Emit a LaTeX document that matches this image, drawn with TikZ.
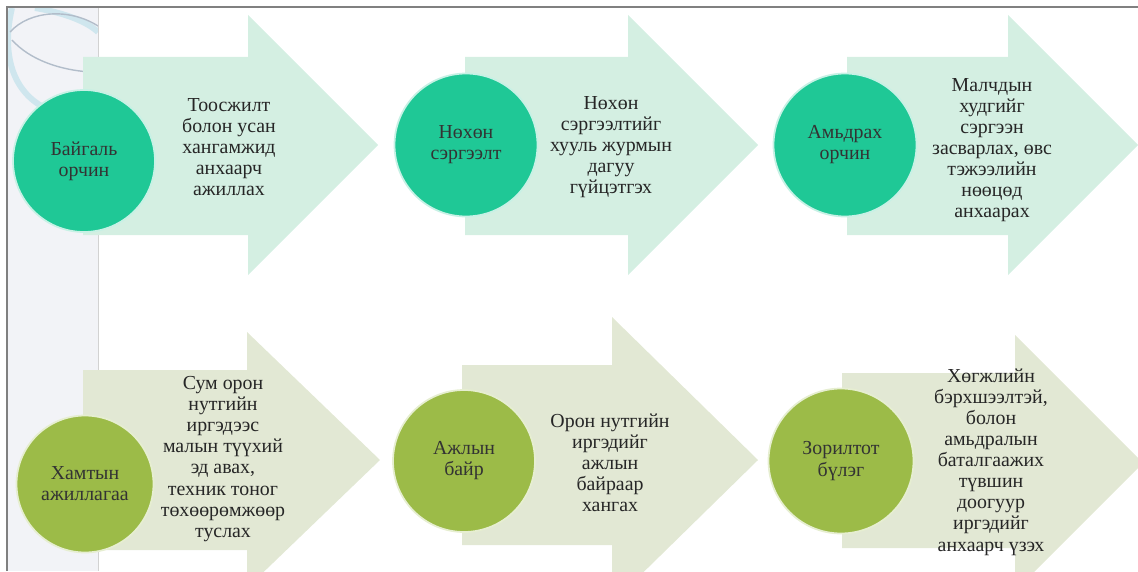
\documentclass[tikz,border=0pt]{standalone}
\usepackage{fontspec}
\setmainfont{Liberation Serif}
\usepackage{xcolor}
\definecolor{tealhub}{HTML}{1FC896}
\definecolor{tealarrow}{HTML}{D4EFE2}
\definecolor{olivehub}{HTML}{9CBB48}
\definecolor{olivearrow}{HTML}{E2E8D4}
\definecolor{stripgray}{HTML}{F2F3F7}
\definecolor{stripblue}{HTML}{CFE6EE}
\definecolor{stripline}{HTML}{B2BDCA}
\definecolor{frame}{HTML}{808080}

\begin{document}
\begin{tikzpicture}[x=0.02cm,y=-0.02cm,
    hub/.style={circle,fill=#1,draw=#1!25!white,line width=1pt,inner sep=0pt,
      align=center,text=black!80,font=\fontsize{11.3}{12}\selectfont},
    note/.style={align=center,text=black!85,font=\fontsize{11.3}{12}\selectfont}]
  \useasboundingbox (0,0) rectangle (1138,571);

  \fill[stripgray] (7,7) rectangle (98,571);
  \begin{scope}
    \clip (7,7) rectangle (98,571);
    \draw[stripblue,line width=3.4pt] (12,8) .. controls (2,50) and (10,90) .. (45,108);
    \draw[stripblue,line width=3.4pt] (35,8) .. controls (60,12) and (85,20) .. (98,32);
    \draw[stripline,line width=0.8pt] (10,32) .. controls (30,10) and (70,8) .. (98,26);
    \draw[stripline,line width=0.8pt] (12,40) .. controls (30,60) and (60,70) .. (90,72);
  \end{scope}
  \draw[gray!35] (98,7) -- (98,571);
  \draw[frame,line width=1.2pt] (7,571) -- (7,7) -- (1138,7);

  \fill[tealarrow] (83,57) -- (248,57) -- (248,15) -- (378,145) -- (248,275)
    -- (248,235) -- (83,235) -- cycle;
  \fill[tealarrow] (465,57) -- (628,57) -- (628,15) -- (758,145) -- (628,275)
    -- (628,235) -- (465,235) -- cycle;
  \fill[tealarrow] (847,57) -- (1008,57) -- (1008,15) -- (1138,145) -- (1008,275)
    -- (1008,235) -- (847,235) -- cycle;

  \fill[olivearrow] (83,370) -- (247,370) -- (247,332) -- (380,460) -- (247,588)
    -- (247,550) -- (83,550) -- cycle;
  \fill[olivearrow] (462,365) -- (612,365) -- (612,317) -- (758,460) -- (612,603)
    -- (612,545) -- (462,545) -- cycle;
  \fill[olivearrow] (842,373) -- (1015,373) -- (1015,335) -- (1143,463) -- (1015,591)
    -- (1015,548) -- (842,548) -- cycle;

  \node[hub=tealhub,minimum size=2.84cm] (nature) at (84,161) {Байгаль\\орчин};
  \node[hub=tealhub,minimum size=2.86cm] (recovery) at (466,145) {Нөхөн\\сэргээлт};
  \node[hub=tealhub,minimum size=2.86cm] (habitat) at (845,145) {Амьдрах\\орчин};
  \node[hub=olivehub,minimum size=2.74cm] (cooperation) at (85,484) {Хамтын\\ажиллагаа};
  \node[hub=olivehub,minimum size=2.84cm] (jobs) at (464,461) {Ажлын\\байр};
  \node[hub=olivehub,minimum size=2.9cm] (target) at (841,461) {Зорилтот\\бүлэг};

  \node[note] (natureNote) at (229,147) {Тоосжилт\\болон усан\\хангамжид\\анхаарч\\ажиллах};
  \node[note] (recoveryNote) at (611,147) {Нөхөн\\сэргээлтийг\\хууль журмын\\дагуу\\гүйцэтгэх};
  \node[note] (habitatNote) at (992,150) {Малчдын\\худгийг\\сэргээн\\засварлах, өвс\\тэжээлийн\\нөөцөд\\анхаарах};
  \node[note] (cooperationNote) at (223,459) {Сум орон\\нутгийн\\иргэдээс\\малын түүхий\\эд авах,\\техник тоног\\төхөөрөмжөөр\\туслах};
  \node[note] (jobsNote) at (610,463) {Орон нутгийн\\иргэдийг\\ажлын\\байраар\\хангах};
  \node[note] (targetNote) at (991,462) {Хөгжлийн\\бэрхшээлтэй,\\болон\\амьдралын\\баталгаажих\\түвшин\\доогуур\\иргэдийг\\анхаарч үзэх};
\end{tikzpicture}
\end{document}
